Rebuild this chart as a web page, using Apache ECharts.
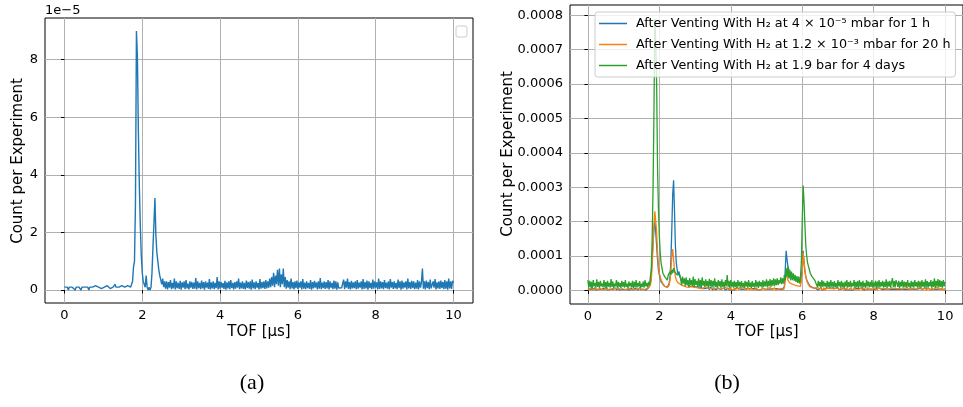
<!DOCTYPE html>
<html>
<head>
<meta charset="utf-8">
<script src="https://cdn.jsdelivr.net/npm/echarts@6/dist/echarts.min.js"></script>
<style>
html,body{margin:0;padding:0;background:#fff;}
#chart{width:963px;height:407px;}
</style>
</head>
<body>
<div id="chart"></div>
<script>
// TOF sampling: value index i corresponds to TOF = i * TOF_STEP (µs), 0 .. 10 µs
const TOF_STEP = 0.025;

// Panel (a): count per experiment, in units of 1e-5
const countA = [
.1,.05,.1,.1,0,.1,.05,.1,.1,.05,
.1,0,.1,.05,.1,.1,.05,0,.1,.1,
.05,.1,.1,.05,.1,0,.1,.1,.05,.1,
.1,.05,.15,.1,.2,.1,.15,.1,.05,.1,
.1,.1,.05,.1,.15,.1,.1,.05,.1,.1,
.1,.15,.2,.1,.1,.05,.1,.1,.1,.15,
.1,.1,.1,.1,.1,.15,.1,.1,.1,.15,
.3,.8,1.0,3.0,9.0,8.1,5.5,3.6,2.2,1.2,.6,.3,.2,.1,.5,.1,0,.1,0,.1,.6,1.5,2.3,3.2,1.9,1.3,1.0,.7,.5,.35,.2,.4,.1,.3,
.05,.3,.02,.28,.08,.35,.03,.25,.06,.4,
.02,.3,.07,.25,.04,.32,.01,.27,.08,.3,
.03,.35,.06,.22,.02,.3,.08,.28,.04,.26,
.05,.42,.02,.3,.07,.25,.03,.33,.06,.28,
.01,.3,.08,.26,.04,.38,.02,.27,.06,.3,
.03,.25,.07,.45,.02,.3,.05,.28,.08,.24,
.04,.32,.01,.27,.06,.3,.03,.35,.07,.25,
.02,.28,.05,.3,.08,.4,.03,.26,.06,.3,
.04,.25,.02,.33,.07,.28,.05,.3,.01,.36,
.06,.27,.03,.3,.08,.25,.02,.38,.05,.28,
.07,.3,.04,.35,.06,.3,.08,.4,
.1,.45,.15,.6,.1,.5,.2,.7,.15,.75,.1,.55,.2,.75,.1,.45,
.05,.35,.08,.3,.03,.4,.06,.28,.02,.3,
.07,.33,.04,.27,.08,.3,.02,.38,.05,.26,
.03,.3,.07,.25,.04,.35,.01,.28,.06,.32,
.08,.27,.02,.3,.05,.42,.03,.26,.07,.3,
.04,.28,.06,.35,.02,.3,.08,.25,.03,.33,
.05,.3,.01,.27,.07,.02,.05,.08,.06,.36,
.03,.3,.08,.4,.04,.28,.02,.32,.06,.27,
.07,.3,.03,.35,.05,.26,.08,.3,.02,.38,
.04,.28,.06,.33,.01,.3,.07,.25,.03,.36,
.05,.3,.08,.27,.02,.4,.04,.3,.06,.28,
.03,.35,.07,.26,.05,.3,.02,.38,.08,.28,
.04,.3,.06,.25,.03,.36,.07,.3,.01,.33,
.05,.27,.08,.3,.02,.4,.06,.28,.04,.32,
.07,.3,.03,.26,.05,.35,.02,.3,.08,.27,
.75,.05,.3,.02,.33,.07,.28,.03,.36,.06,
.05,.3,.08,.38,.02,.27,.06,.3,.04,.33,
.07,.28,.03,.35,.05,.3,.01,.4,.06,.3,
.04,.32,.25
];

// Panel (b): count per experiment, in units of 1e-4
const countB1 = [ // 4e-5 mbar, 1 h
.05,.01,.08,.02,.1,.01,.06,.02,.08,.01,
.06,.02,.04,.08,.01,.03,.07,.01,.06,.02,
.05,.08,.01,.06,.02,.04,.07,.01,.03,.06,
.02,.07,.01,.05,.08,.01,.06,.02,.04,.07,
.01,.03,.06,.08,.02,.04,.06,.01,.07,.03,
.06,.01,.04,.07,.02,.06,.01,.05,.08,.02,
.05,.01,.04,.02,.07,.01,.06,.02,.08,.1,
.2,.5,1.0,1.4,1.8,2.0,1.7,1.3,.9,.6,.45,.35,.25,.2,.18,.15,.12,.1,.12,.1,.15,.2,.4,.9,1.8,2.8,3.2,2.3,1.3,.8,.6,.45,.55,.4,
.35,.3,.3,.25,.25,.2,.2,.18,.15,.15,
.12,.1,.08,.12,.1,.07,.1,.08,.06,.1,
.08,.05,.1,.07,.09,.05,.08,.1,.06,.07,
.05,.08,.02,.1,.05,.07,.01,.08,.06,.02,
.07,.01,.06,.08,.02,.03,.06,.01,.07,.04,
.01,.06,.03,.07,.01,.04,.06,.02,.03,.06,
.01,.05,.07,.02,.05,.06,.01,.05,.03,.06,
.02,.04,.06,.01,.05,.07,.02,.05,.06,.01,
.05,.06,.01,.05,.03,.06,.02,.04,.07,.01,
.03,.05,.06,.01,.05,.03,.06,.02,.04,.06,
.01,.04,.06,.03,.05,.06,.01,.05,
.02,.06,.04,.05,.06,.02,.04,.06,.1,.6,1.15,.9,.7,.6,.55,.5,
.45,.4,.38,.35,.33,.3,.3,.28,.25,.25,.22,.2,.6,1.15,.8,.55,.4,.3,.25,.2,.15,.12,.1,.1,.08,.08,.07,.06,
.05,.07,.01,.06,.02,.08,.01,.06,.02,.04,
.06,.01,.07,.04,.02,.06,.01,.05,.07,.02,
.05,.06,.01,.05,.08,.02,.06,.01,.04,.06,
.02,.07,.01,.05,.06,.02,.05,.07,.01,.05,
.06,.01,.05,.07,.02,.05,.06,.01,.05,.06,
.02,.05,.07,.01,.06,.02,.03,.06,.01,.04,
.07,.01,.04,.06,.02,.03,.06,.01,.07,.02,
.05,.06,.01,.05,.02,.07,.01,.04,.06,.02,
.04,.06,.01,.03,.07,.02,.04,.06,.01,.03,
.06,.01,.04,.07,.02,.03,.06,.01,.04,.06,
.02,.03,.07,.01,.04,.06,.02,.04,.06,.01,
.03,.06,.01,.04,.07,.02,.06,.01,.05,.03,
.06,.01,.07,.02,.05,.06,.01,.05,.02,.06,
.01,.04,.06,.02,.03,.07,.01,.04,.06,.02,
.04,.06,.01,.03,.05
];

const countB2 = [ // 1.2e-3 mbar, 20 h
.04,.01,.03,.05,.01,.04,.02,.06,.01,.05,
.02,.04,.01,.07,.02,.05,.01,.04,.02,.03,
.05,.01,.04,.02,.06,.01,.05,.02,.06,.01,
.03,.05,.01,.04,.07,.02,.04,.01,.03,.05,
.01,.04,.02,.03,.06,.01,.07,.02,.05,.01,
.04,.02,.03,.06,.01,.04,.07,.02,.06,.01,
.05,.02,.04,.01,.03,.06,.02,.07,.08,.1,
.15,.3,.7,1.3,1.9,2.3,2.25,1.7,1.1,.75,.5,.4,.3,.25,.2,.15,.12,.1,.1,.08,.1,.15,.3,.6,1.0,1.2,.9,.6,.4,.3,.25,.22,.2,.18,
.17,.15,.14,.13,.12,.12,.1,.11,.1,.09,
.1,.08,.11,.07,.1,.09,.06,.1,.08,.07,
.09,.06,.1,.08,.05,.09,.07,.1,.06,.08,
.07,.05,.09,.06,.08,.1,.05,.07,.09,.06,
.08,.02,.07,.09,.03,.04,.08,.02,.07,.05,
.02,.08,.04,.07,.01,.09,.03,.04,.07,.02,
.08,.02,.06,.04,.07,.01,.08,.03,.04,.07,
.02,.06,.08,.01,.06,.03,.07,.01,.06,.08,
.02,.07,.04,.01,.05,.08,.02,.04,.07,.01,
.06,.02,.07,.03,.08,.01,.04,.05,.07,.02,
.05,.07,.01,.06,.03,.08,.02,.05,
.06,.02,.07,.03,.06,.01,.06,.02,.08,.3,.5,.4,.3,.25,.22,.2,
.2,.18,.17,.16,.15,.15,.14,.13,.13,.12,.12,.15,.5,1.1,.85,.6,.4,.3,.22,.16,.12,.1,.09,.08,.07,.08,.06,.07,
.02,.04,.08,.01,.07,.03,.06,.01,.08,.04,
.01,.07,.04,.02,.05,.08,.01,.06,.03,.07,
.04,.01,.05,.08,.03,.06,.01,.07,.04,.02,
.07,.01,.06,.03,.08,.01,.06,.02,.07,.03,
.06,.01,.08,.04,.02,.05,.07,.01,.05,.06,
.08,.01,.05,.07,.03,.06,.01,.08,.04,.02,
.05,.07,.01,.06,.02,.08,.03,.06,.01,.07,
.04,.02,.05,.08,.01,.05,.07,.03,.06,.01,
.08,.04,.01,.05,.07,.02,.05,.06,.08,.01,
.05,.07,.01,.06,.02,.08,.04,.01,.05,.07,
.04,.02,.08,.05,.01,.07,.03,.04,.06,.01,
.07,.04,.01,.05,.08,.03,.05,.07,.01,.06,
.02,.08,.04,.01,.05,.07,.03,.06,.01,.08,
.04,.01,.05,.07,.02,.05,.08,.03,.06,.01,
.07,.04,.01,.05,.04
];

const countB3 = [ // 1.9 bar, 4 days
.3,.08,.28,.1,.25,.06,.3,.12,.22,.08,
.32,.1,.25,.07,.28,.12,.2,.09,.3,.1,
.24,.06,.28,.11,.22,.08,.33,.1,.26,.07,
.2,.12,.3,.08,.25,.1,.22,.06,.28,.11,
.24,.08,.3,.1,.2,.07,.26,.12,.22,.09,
.28,.06,.25,.1,.3,.08,.22,.11,.27,.07,
.2,.1,.26,.08,.3,.12,.22,.09,.25,.15,
.4,.6,1.5,3.0,5.2,7.9,7.2,6.0,3.6,2.4,1.6,1.1,.8,.65,.5,.45,.4,.35,.4,.3,.45,.4,.55,.45,.6,.5,.65,.55,.5,.6,.45,.5,.4,.45,
.45,.15,.4,.2,.35,.12,.38,.18,.3,.1,
.36,.15,.3,.12,.4,.1,.33,.16,.28,.1,
.35,.12,.3,.08,.38,.14,.28,.1,.32,.12,
.27,.09,.34,.12,.3,.08,.28,.11,.35,.1,
.25,.08,.3,.12,.27,.07,.32,.1,.25,.09,
.3,.12,.45,.1,.28,.07,.3,.11,.25,.08,
.28,.1,.24,.07,.3,.12,.25,.08,.27,.1,
.22,.07,.28,.11,.25,.08,.3,.1,.23,.07,
.27,.1,.22,.08,.3,.11,.25,.07,.28,.12,
.24,.08,.3,.1,.26,.12,.32,.09,.28,.12,
.33,.1,.3,.14,.35,.12,.32,.15,
.35,.15,.3,.2,.38,.18,.35,.2,.45,.3,.65,.4,.7,.35,.6,.3,
.55,.3,.5,.28,.45,.25,.42,.22,.4,.2,.38,.8,2.0,3.05,2.6,1.9,1.3,1.0,.8,.7,.6,.5,.45,.4,.35,.38,.3,.32,
.3,.1,.28,.12,.25,.08,.3,.1,.26,.12,
.22,.08,.28,.1,.25,.07,.3,.11,.24,.09,
.27,.1,.22,.07,.3,.12,.25,.08,.28,.1,
.23,.07,.26,.11,.3,.08,.24,.1,.28,.09,
.22,.12,.3,.08,.25,.1,.27,.07,.3,.11,
.24,.08,.28,.1,.22,.07,.3,.12,.26,.09,
.25,.1,.3,.08,.23,.11,.28,.07,.26,.1,
.3,.09,.24,.12,.28,.08,.25,.1,.32,.07,
.26,.11,.28,.08,.24,.36,.1,.27,.09,.3,
.22,.1,.28,.07,.25,.12,.3,.08,.26,.1,
.24,.09,.3,.11,.22,.07,.28,.1,.25,.08,
.3,.12,.24,.09,.28,.1,.26,.07,.3,.11,
.25,.08,.32,.1,.27,.09,.24,.12,.3,.08,
.26,.1,.35,.07,.28,.11,.33,.09,.3,.1,
.27,.08,.3,.12,.25
];

const seriesNamesB = [
  'After Venting With H₂ at 4 × 10⁻⁵ mbar for 1 h',
  'After Venting With H₂ at 1.2 × 10⁻³ mbar for 20 h',
  'After Venting With H₂ at 1.9 bar for 4 days'
];
const xTicks = [0, 2, 4, 6, 8, 10];
const yTicksA = [0, 2, 4, 6, 8];          // ×1e-5
const yTicksB = [0, 1, 2, 3, 4, 5, 6, 7, 8]; // ×1e-4
const colors = ['#1f77b4', '#ff7f0e', '#2ca02c'];

function pairs(arr) { return arr.map((v, i) => [i * TOF_STEP, v]); }

const FONT = 'DejaVu Sans';
const tickLabel = { color: '#000', fontFamily: FONT, fontSize: 13, margin: 6 };
const tick = { show: true, inside: false, length: 3.5, lineStyle: { color: '#000', width: 1 } };
const split = { show: true, lineStyle: { color: '#b0b0b0', width: 1 } };

function xAxis(gi) {
  return {
    type: 'value', gridIndex: gi, min: -0.5, max: 10.5, splitNumber: 5,
    axisLine: { show: false },
    axisTick: Object.assign({ customValues: xTicks }, tick),
    axisLabel: Object.assign({ customValues: xTicks }, tickLabel),
    splitLine: split
  };
}

const chart = echarts.init(document.getElementById('chart'), null, { renderer: 'canvas' });
chart.setOption({
  animation: false,
  backgroundColor: '#fff',
  color: colors,
  grid: [
    { left: 45, top: 18, width: 428, height: 285, show: true, borderColor: '#000', borderWidth: 1, backgroundColor: 'transparent' },
    { left: 570, top: 5, width: 394, height: 299, show: true, borderColor: '#000', borderWidth: 1, backgroundColor: 'transparent' }
  ],
  xAxis: [xAxis(0), xAxis(1)],
  yAxis: [
    {
      type: 'value', gridIndex: 0, min: -0.45, max: 9.45, splitNumber: 5,
      axisLine: { show: false },
      axisTick: Object.assign({ customValues: yTicksA }, tick),
      axisLabel: Object.assign({ customValues: yTicksA }, tickLabel, { margin: 7 }),
      splitLine: split
    },
    {
      type: 'value', gridIndex: 1, min: -0.395, max: 8.3, splitNumber: 8,
      axisLine: { show: false },
      axisTick: Object.assign({ customValues: yTicksB }, tick),
      axisLabel: Object.assign({ customValues: yTicksB, formatter: v => (v * 1e-4).toFixed(4) }, tickLabel, { margin: 7 }),
      splitLine: split
    }
  ],
  legend: {
    show: true,
    data: seriesNamesB,
    orient: 'vertical',
    left: 595, top: 12,
    icon: 'rect',
    itemWidth: 28, itemHeight: 1.5, itemGap: 8,
    padding: [5, 5, 5, 4],
    backgroundColor: 'rgba(255,255,255,0.8)',
    borderColor: '#cccccc', borderWidth: 1, borderRadius: 3,
    textStyle: { color: '#000', fontFamily: FONT, fontSize: 12.75, padding: [0, 0, 0, 4] },
    selectedMode: false
  },
  series: [
    { name: 'a', type: 'line', xAxisIndex: 0, yAxisIndex: 0, data: pairs(countA), symbol: 'none',
      lineStyle: { color: colors[0], width: 1.4 }, itemStyle: { color: colors[0] } },
    { name: seriesNamesB[0], type: 'line', xAxisIndex: 1, yAxisIndex: 1, data: pairs(countB1), symbol: 'none',
      lineStyle: { color: colors[0], width: 1.3 }, itemStyle: { color: colors[0] } },
    { name: seriesNamesB[1], type: 'line', xAxisIndex: 1, yAxisIndex: 1, data: pairs(countB2), symbol: 'none',
      lineStyle: { color: colors[1], width: 1.3 }, itemStyle: { color: colors[1] } },
    { name: seriesNamesB[2], type: 'line', xAxisIndex: 1, yAxisIndex: 1, data: pairs(countB3), symbol: 'none',
      lineStyle: { color: colors[2], width: 1.3 }, itemStyle: { color: colors[2] } }
  ],
  graphic: [
    { type: 'text', left: 45, top: 4, style: { text: '1e−5', font: '13px "DejaVu Sans"', fill: '#000' } },
    { type: 'rect', shape: { x: 456, y: 26, width: 11, height: 11, r: 2 },
      style: { fill: 'rgba(255,255,255,0.8)', stroke: '#cccccc', lineWidth: 1 } },
    { type: 'text', x: 18, y: 161, rotation: Math.PI / 2,
      style: { text: 'Count per Experiment', font: '15px "DejaVu Sans"', fill: '#000', textAlign: 'center', textVerticalAlign: 'middle' } },
    { type: 'text', x: 508, y: 154, rotation: Math.PI / 2,
      style: { text: 'Count per Experiment', font: '15px "DejaVu Sans"', fill: '#000', textAlign: 'center', textVerticalAlign: 'middle' } },
    { type: 'text', x: 259, y: 332,
      style: { text: 'TOF [μs]', font: '15px "DejaVu Sans"', fill: '#000', textAlign: 'center', textVerticalAlign: 'middle' } },
    { type: 'text', x: 767, y: 332,
      style: { text: 'TOF [μs]', font: '15px "DejaVu Sans"', fill: '#000', textAlign: 'center', textVerticalAlign: 'middle' } },
    { type: 'text', x: 252, y: 383,
      style: { text: '(a)', font: '22px "Liberation Serif"', fill: '#000', textAlign: 'center', textVerticalAlign: 'middle' } },
    { type: 'text', x: 727, y: 383,
      style: { text: '(b)', font: '22px "Liberation Serif"', fill: '#000', textAlign: 'center', textVerticalAlign: 'middle' } }
  ]
});
</script>
</body>
</html>
